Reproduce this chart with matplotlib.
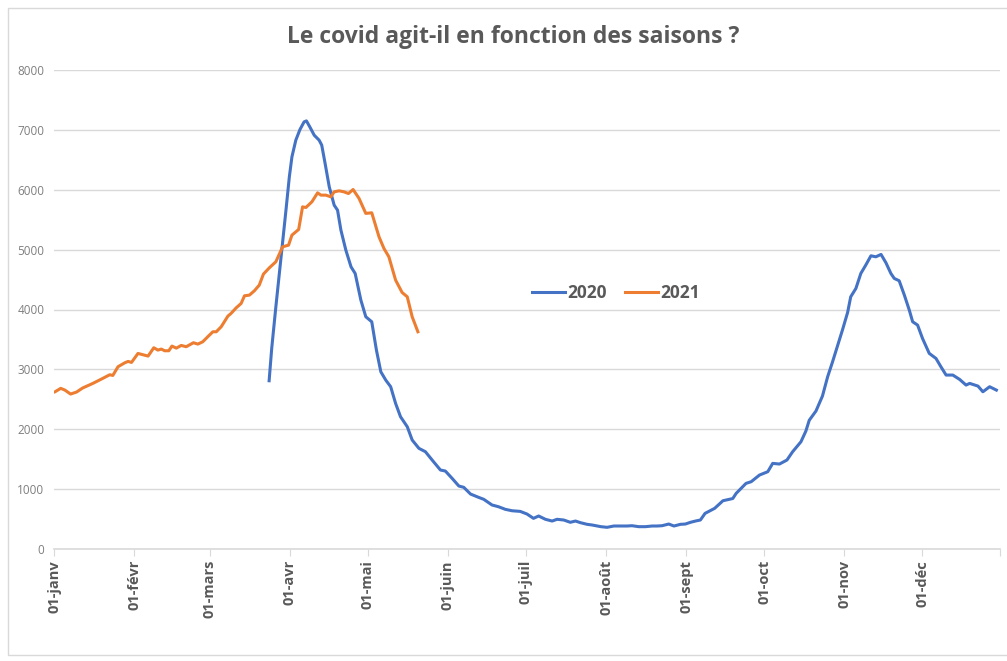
import matplotlib.pyplot as plt
from matplotlib.patches import Rectangle

# jour de l'année (0 = 1er janvier) et valeurs
jours_2020 = [83, 84, 85.6, 87.9, 89.5, 90.8, 91.8, 93.3, 94.9, 96.5, 97.4, 98.7, 100.4,
              102.3, 103.3, 104.6, 106.2, 108.1, 109.4, 110.7, 112.6, 114.6, 116.2, 118.4,
              120.3, 122.6, 124.4, 126.1, 128, 129.9, 131.8, 133.7, 136.3, 138.2, 140.8,
              143.3, 145.9, 149.1, 151, 153.6, 156.2, 158.1, 160.7, 163.8, 165.8, 169,
              171.5, 174.1, 176.7, 179.9, 182.5, 185, 187, 189.6, 192.2, 194.1, 196.7,
              199.2, 201.2, 203.1, 205.7, 207.6, 211, 213.4, 216, 218.5, 221.1, 223,
              225.6, 228.2, 230.8, 232.7, 234.6, 237.2, 239.2, 241.7, 243.6, 245.6, 247.5,
              249.4, 251.2, 254.9, 258.1, 261.9, 263.2, 267, 269, 272.2, 275.4, 277.3,
              279.9, 282.8, 285, 288.2, 290.1, 291.4, 294, 296.5, 298.5, 300.4, 302.3,
              304.2, 306.2, 307.4, 309.4, 311.3, 313.2, 315.2, 317.1, 319.1, 321, 322.9,
              324.2, 326.1, 328.1, 330, 331.3, 333.2, 335.1, 337.7, 340.3, 342.2, 344.2,
              346.8, 349.4, 351.9, 353.3, 356.5, 358.4, 361, 363.6]
cas_2020 = [2810, 3350, 4045, 4992, 5659, 6215, 6549, 6828, 7006, 7134, 7150, 7050, 6911,
            6828, 6745, 6439, 6049, 5743, 5659, 5326, 4992, 4713, 4602, 4157,
            3879, 3795, 3322, 2960, 2821, 2710, 2432, 2209, 2042, 1820, 1681,
            1625, 1486, 1319, 1302, 1180, 1052, 1030, 918, 863, 830, 735,
            706, 663, 639, 628, 584, 512, 551, 496, 467, 496, 484,
            446, 467, 440, 412, 401, 373, 362, 384, 384, 384, 389,
            373, 373, 384, 384, 389, 417, 384, 412, 417, 446, 467,
            484, 595, 679, 806, 843, 929, 1096, 1124, 1235, 1291, 1430,
            1419, 1486, 1625, 1791, 1970, 2150, 2305, 2555, 2877, 3127, 3390,
            3656, 3950, 4212, 4352, 4602, 4741, 4897, 4880, 4920, 4780, 4602,
            4519, 4480, 4240, 3990, 3795, 3740, 3517, 3267, 3183, 3044, 2905,
            2905, 2833, 2738, 2766, 2721, 2626, 2710, 2654]

jours_2021 = [0.4, 2.6, 4.2, 6.4, 8.7, 11, 15, 18.3, 21.5, 22.7, 24.7, 27.3, 28.6, 29.9,
              32.4, 36.3, 38.5, 40.1, 41.4, 42.7, 44.3, 45.5, 47.2, 49.1, 51, 53.8, 55.5,
              57.4, 59.3, 61.3, 62.6, 64.5, 67.1, 68.3, 70.3, 72.2, 73.5, 75.4, 77.3,
              79.2, 80.8, 83.1, 85.6, 88.2, 90.5, 91.8, 94.4, 95.9, 97.2, 99.5, 101.7,
              103, 104.9, 106.8, 108.1, 110, 111.9, 113.6, 115.4, 117.7, 120.3, 122.6,
              125.4, 127.3, 129.2, 131.8, 134.3, 136.3, 138.2, 140.4]
cas_2021 = [2626, 2683, 2654, 2588, 2621, 2688, 2766, 2838, 2910, 2899, 3044, 3110, 3133, 3116,
            3266, 3222, 3361, 3322, 3339, 3311, 3311, 3389, 3355, 3400, 3378, 3445, 3422,
            3461, 3544, 3628, 3628, 3711, 3890, 3934, 4028, 4101, 4229, 4240, 4312,
            4407, 4591, 4697, 4797, 5047, 5075, 5242, 5337, 5714, 5704, 5798, 5948,
            5910, 5910, 5882, 5965, 5982, 5965, 5937, 6004, 5855, 5605, 5615,
            5214, 5020, 4880, 4491, 4285, 4212, 3878, 3628]

debuts_mois = [0, 31, 60, 91, 121, 152, 182, 213, 244, 274, 305, 335]
noms_mois = ["01-janv", "01-févr", "01-mars", "01-avr", "01-mai", "01-juin",
             "01-juil", "01-août", "01-sept", "01-oct", "01-nov", "01-déc"]

gris = "#595959"
plt.rcParams['font.family'] = ['Open Sans', 'DejaVu Sans']

fig = plt.figure(figsize=(10.07, 6.61), dpi=100)
fig.patches.append(Rectangle((8 / 1007, 6 / 661), 1.2, 647 / 661, transform=fig.transFigure,
                             fill=False, edgecolor="#d9d9d9", linewidth=1))
ax = fig.add_axes([54 / 1007, 1 - 549 / 661, 946 / 1007, 479 / 661])

ax.plot(jours_2020, cas_2020, color="#4472C4", linewidth=2.2, label="2020")
ax.plot(jours_2021, cas_2021, color="#ED7D31", linewidth=2.2, label="2021")

ax.set_xlim(0, 365)
ax.set_ylim(0, 8000)
ax.set_yticks(range(0, 8001, 1000))
ax.set_xticks(debuts_mois + [365])
ax.set_xticklabels(noms_mois + [""], rotation=90, fontsize=10.5, fontweight="bold", color=gris)
ax.tick_params(axis="y", length=0, labelsize=8.5, labelcolor="#7f7f7f", pad=7)
ax.tick_params(axis="x", length=5, color="#d9d9d9", pad=3)
ax.grid(axis="y", color="#d9d9d9", linewidth=1)
ax.set_axisbelow(True)
for s in ["top", "right", "left"]:
    ax.spines[s].set_visible(False)
ax.spines["bottom"].set_color("#d9d9d9")
ax.spines["bottom"].set_linewidth(1.2)

fig.text(0.51, 1 - 37 / 661, "Le covid agit-il en fonction des saisons ?", ha="center", va="center",
         fontsize=16.5, fontweight="bold", color=gris)

leg = ax.legend(loc="center", bbox_to_anchor=(0.594, 0.534), ncol=2, frameon=False,
                handlelength=1.9, handletextpad=0.15, columnspacing=1.0,
                prop={"size": 12.5, "weight": "bold"})
for t in leg.get_texts():
    t.set_color(gris)

fig.savefig("out.png", dpi=100)
